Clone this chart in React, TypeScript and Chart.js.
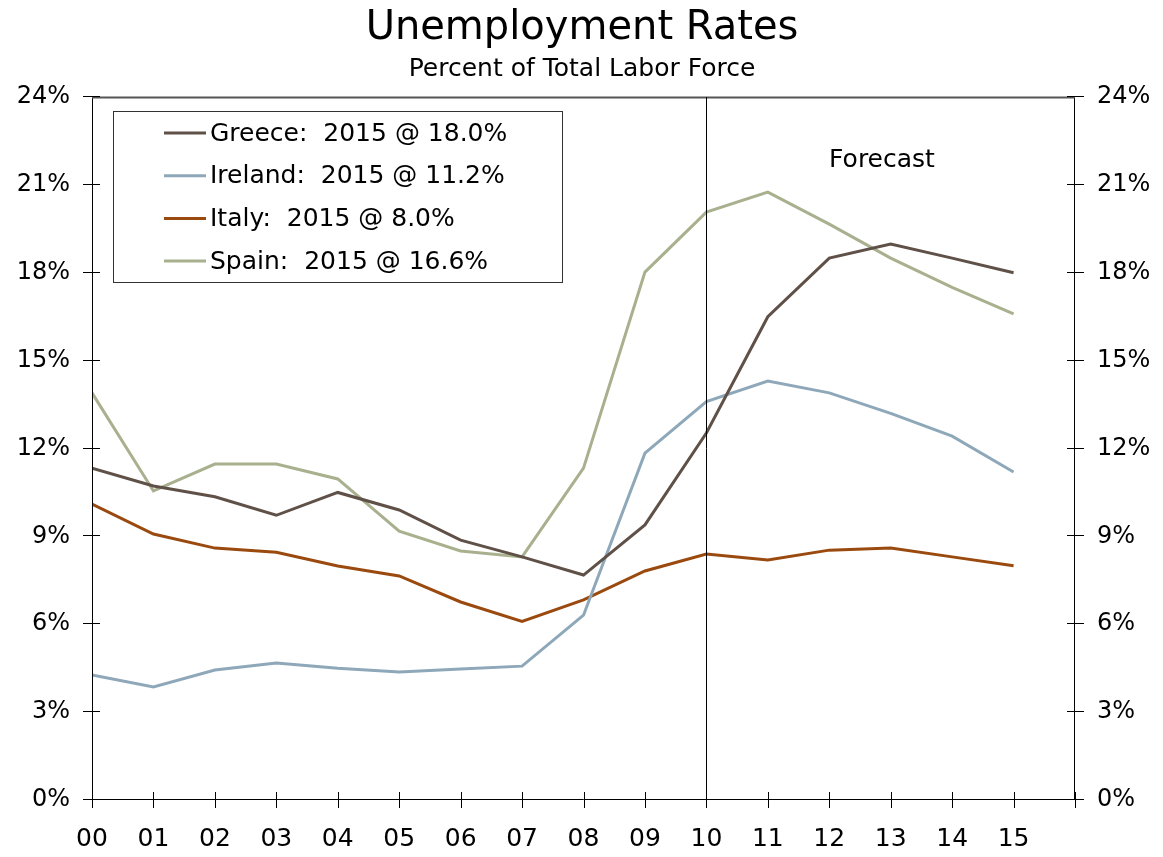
import React, { useEffect, useRef } from "react";
import { Chart, registerables } from "chart.js";

Chart.register(...registerables);

const years = ["00","01","02","03","04","05","06","07","08","09","10","11","12","13","14","15"];
const greece = [11.33,10.72,10.35,9.72,10.5,9.9,8.87,8.3,7.68,9.39,12.53,16.5,18.5,18.98,18.5,18.0];
const ireland = [4.27,3.86,4.44,4.68,4.5,4.37,4.47,4.57,6.31,11.84,13.6,14.3,13.9,13.2,12.42,11.2];
const italy = [10.1,9.08,8.6,8.46,7.99,7.65,6.76,6.1,6.83,7.82,8.4,8.19,8.53,8.6,8.3,8.0];
const spain = [13.9,10.55,11.47,11.47,10.96,9.18,8.5,8.3,11.33,18.02,20.07,20.75,19.66,18.5,17.5,16.6];
const seriesNames = ["Greece:  2015 @ 18.0%","Ireland:  2015 @ 11.2%","Italy:  2015 @ 8.0%","Spain:  2015 @ 16.6%"];
const seriesColors = ["#5F5147","#8EA8BA","#9A4A0F","#A8B08E"];
const yTicks = [0,3,6,9,12,15,18,21,24];
const forecastStart = 10;

const FONT = "'DejaVu Sans', Verdana, sans-serif";

const overlay = {
  id: "overlay",
  afterDraw(chart: any) {
    const ctx = chart.ctx;
    const xs = chart.scales.x;
    const ys = chart.scales.y;
    const { left, right, top, bottom } = chart.chartArea;
    ctx.save();
    // title
    ctx.fillStyle = "#000";
    ctx.textAlign = "center";
    ctx.textBaseline = "alphabetic";
    ctx.font = "40px " + FONT;
    ctx.fillText("Unemployment Rates", 582, 39);
    ctx.font = "25px " + FONT;
    ctx.fillText("Percent of Total Labor Force", 582, 76);
    // frame
    ctx.strokeStyle = "#000";
    ctx.lineWidth = 1;
    ctx.beginPath();
    ctx.moveTo(left + 0.5, top); ctx.lineTo(left + 0.5, bottom);
    ctx.moveTo(right - 0.5, top); ctx.lineTo(right - 0.5, bottom);
    ctx.moveTo(left, bottom - 0.5); ctx.lineTo(right, bottom - 0.5);
    ctx.stroke();
    ctx.strokeStyle = "#555";
    ctx.lineWidth = 2;
    ctx.beginPath();
    ctx.moveTo(left, top + 0.5); ctx.lineTo(right, top + 0.5);
    ctx.stroke();
    // ticks
    ctx.strokeStyle = "#000";
    ctx.lineWidth = 1;
    ctx.beginPath();
    yTicks.forEach((v) => {
      const y = Math.round(ys.getPixelForValue(v)) - 0.5;
      ctx.moveTo(left - 9, y); ctx.lineTo(left + 8, y);
      ctx.moveTo(right - 8, y); ctx.lineTo(right + 9, y);
    });
    for (let i = 0; i <= years.length; i++) {
      const x = Math.round(xs.getPixelForValue(i)) + 0.5;
      ctx.moveTo(x, bottom - 8); ctx.lineTo(x, bottom + 8);
    }
    // forecast line
    const fx = Math.round(xs.getPixelForValue(forecastStart)) + 0.5;
    ctx.moveTo(fx, top); ctx.lineTo(fx, bottom);
    ctx.stroke();
    ctx.font = "25px " + FONT;
    ctx.textAlign = "center";
    ctx.textBaseline = "middle";
    ctx.fillText("Forecast", 882, 160);
    // legend
    ctx.fillStyle = "#fff";
    ctx.fillRect(113, 111, 449, 171);
    ctx.strokeStyle = "#333";
    ctx.lineWidth = 1;
    ctx.strokeRect(113.5, 111.5, 449, 171);
    seriesNames.forEach((name, i) => {
      const y = 133 + i * 42.7;
      ctx.strokeStyle = seriesColors[i];
      ctx.lineWidth = 3;
      ctx.beginPath();
      ctx.moveTo(164, y); ctx.lineTo(206, y);
      ctx.stroke();
      ctx.fillStyle = "#000";
      ctx.textAlign = "left";
      ctx.textBaseline = "middle";
      ctx.font = "25px " + FONT;
      ctx.fillText(name, 210, y + 1);
    });
    ctx.restore();
  },
};

export default function App() {
  const ref = useRef<HTMLCanvasElement>(null);
  useEffect(() => {
    if (!ref.current) return;
    const all = [greece, ireland, italy, spain];
    const chart = new Chart(ref.current, {
      type: "line",
      data: {
        datasets: all.map((arr, i) => ({
          label: seriesNames[i],
          data: arr.map((v, j) => ({ x: j, y: v })),
          borderColor: seriesColors[i],
          backgroundColor: seriesColors[i],
          borderWidth: 3,
          pointRadius: 0,
          tension: 0,
        })),
      },
      plugins: [overlay],
      options: {
        animation: false,
        responsive: false,
        maintainAspectRatio: false,
        layout: { padding: { top: 97, left: 0, right: 0, bottom: 0 } },
        plugins: { legend: { display: false }, title: { display: false }, tooltip: { enabled: false } },
        scales: {
          x: {
            type: "linear",
            min: 0,
            max: 16,
            afterFit: (s: any) => { s.height = 57; },
            grid: { display: false },
            border: { display: false },
            ticks: {
              stepSize: 1,
              autoSkip: false,
              maxRotation: 0,
              padding: 16,
              color: "#000",
              font: { family: FONT, size: 25 },
              callback: (v: any) => years[v as number] ?? "",
            },
          },
          y: {
            position: "left",
            min: 0,
            max: 24,
            afterFit: (s: any) => { s.width = 92; },
            grid: { display: false },
            border: { display: false },
            ticks: {
              stepSize: 3,
              padding: 14,
              color: "#000",
              font: { family: FONT, size: 24 },
              callback: (v: any) => v + "%",
            },
          },
          y2: {
            position: "right",
            min: 0,
            max: 24,
            afterFit: (s: any) => { s.width = 88; },
            grid: { display: false },
            border: { display: false },
            ticks: {
              stepSize: 3,
              padding: 14,
              color: "#000",
              font: { family: FONT, size: 24 },
              callback: (v: any) => v + "%",
            },
          },
        },
      },
    });
    return () => chart.destroy();
  }, []);
  return (
    <div style={{ position: "absolute", left: 0, top: 0, width: 1163, height: 857 }}>
      <canvas ref={ref} width={1163} height={857} style={{ width: 1163, height: 857, display: "block" }} />
    </div>
  );
}
